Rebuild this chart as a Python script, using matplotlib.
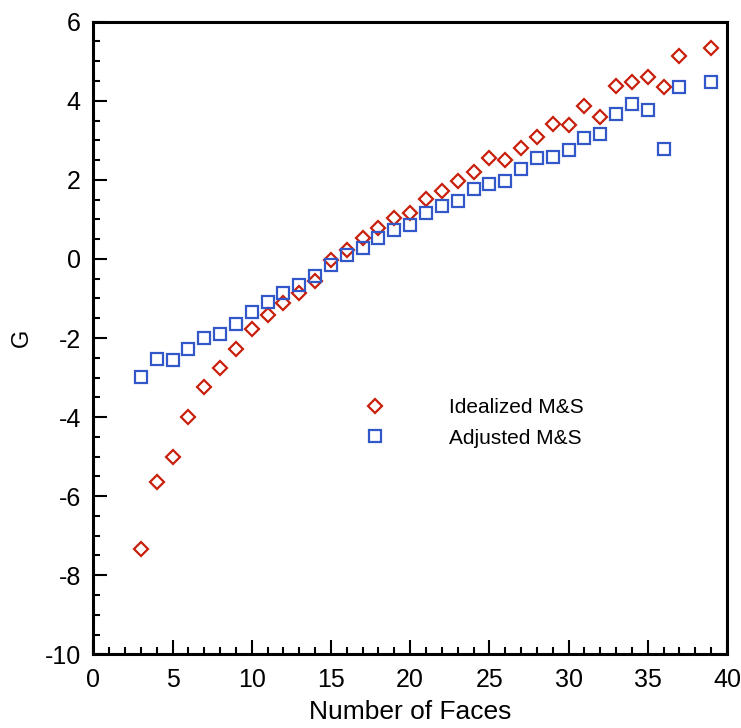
import matplotlib
matplotlib.use("Agg")
import matplotlib.pyplot as plt
from matplotlib.ticker import MultipleLocator
from matplotlib.lines import Line2D
from matplotlib import font_manager

faces = [3, 4, 5, 6, 7, 8, 9, 10, 11, 12, 13, 14, 15, 16, 17, 18, 19, 20, 21,
         22, 23, 24, 25, 26, 27, 28, 29, 30, 31, 32, 33, 34, 35, 36, 37, 39]
idealized = [-7.34, -5.63, -5.02, -3.99, -3.23, -2.77, -2.28, -1.76, -1.43, -1.11,
             -0.85, -0.57, -0.03, 0.23, 0.52, 0.79, 1.03, 1.16, 1.51,
             1.73, 1.97, 2.21, 2.55, 2.50, 2.80, 3.08, 3.41, 3.39, 3.87, 3.60,
             4.38, 4.48, 4.61, 4.34, 5.13, 5.33]
adjusted = [-2.99, -2.53, -2.55, -2.28, -2.01, -1.90, -1.64, -1.33, -1.10, -0.87,
            -0.67, -0.43, -0.15, 0.10, 0.27, 0.52, 0.73, 0.87, 1.16,
            1.34, 1.47, 1.76, 1.90, 1.96, 2.27, 2.55, 2.57, 2.76, 3.07, 3.15,
            3.66, 3.92, 3.77, 2.77, 4.36, 4.48]
labels = ["Idealized M&S", "Adjusted M&S"]

names = {f.name for f in font_manager.fontManager.ttflist}
base = "Liberation Sans" if "Liberation Sans" in names else "DejaVu Sans"
plt.rcParams['font.family'] = [base, 'DejaVu Sans']
plt.rcParams['axes.unicode_minus'] = False

red = '#c8200c'
blue = '#3157c8'

fig = plt.figure(figsize=(7.41, 7.28), dpi=100)
ax = fig.add_axes([0.1259, 0.1012, 0.9811 - 0.1259, 0.9702 - 0.1012])

ax.plot(faces, idealized, linestyle='none', marker='D', ms=7.0, mfc='none',
        mec=red, mew=1.6)
ax.plot(faces, adjusted, linestyle='none', marker='s', ms=8.3, mfc='none',
        mec=blue, mew=1.6)

ax.set_xlim(0, 40)
ax.set_ylim(-10, 6)
ax.xaxis.set_major_locator(MultipleLocator(5))
ax.xaxis.set_minor_locator(MultipleLocator(1))
ax.yaxis.set_major_locator(MultipleLocator(2))
ax.yaxis.set_minor_locator(MultipleLocator(0.5))
ax.tick_params(which='both', direction='in', top=False, right=False, width=1.5)
ax.tick_params(which='major', length=10)
ax.tick_params(which='minor', length=5)
ax.tick_params(axis='x', which='major', pad=10, labelsize=18)
ax.tick_params(axis='y', which='major', pad=9, labelsize=18)
for sp in ax.spines.values():
    sp.set_linewidth(2.2)

ax.set_xlabel("Number of Faces", fontsize=19)
ax.xaxis.set_label_coords(0.5, -0.072)
ax.set_ylabel("G", fontsize=17)
ax.yaxis.set_label_coords(-0.096, 0.5)

handles = [Line2D([], [], linestyle='none', marker='D', ms=7.0, mfc='none', mec=red, mew=1.6),
           Line2D([], [], linestyle='none', marker='s', ms=8.3, mfc='none', mec=blue, mew=1.6)]
ax.legend(handles, labels, loc='center left', bbox_to_anchor=(0.398, 0.3656),
          frameon=False, fontsize=15, handlelength=1.0, handletextpad=3.08,
          labelspacing=0.55)

fig.savefig("out.png", dpi=100)
